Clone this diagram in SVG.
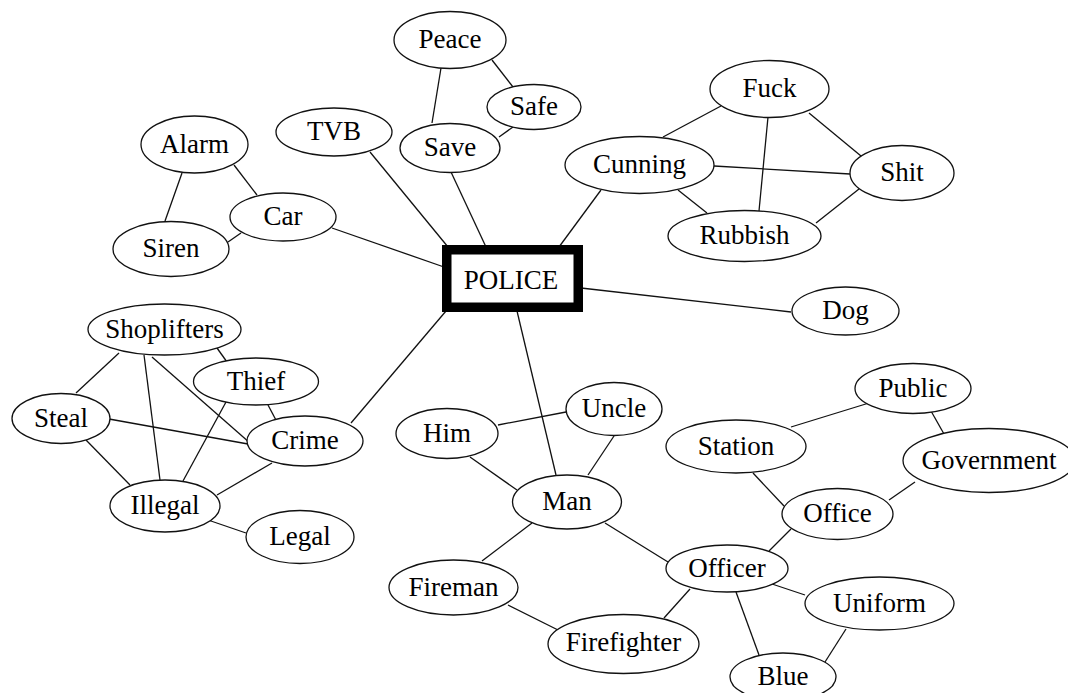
<svg xmlns="http://www.w3.org/2000/svg" width="1068" height="693" viewBox="0 0 1068 693">
  <style>
    .edge { stroke: #111; stroke-width: 1.3; fill: none; }
    .node ellipse { fill: #fff; stroke: #111; stroke-width: 1.3; }
    .node text { font-family: "Liberation Serif", "Times New Roman", serif; font-size: 27px; fill: #000; text-anchor: middle; }
    .hub rect { fill: #fff; stroke: #000; stroke-width: 9.5; }
  </style>
  <rect width="1068" height="693" fill="#fff"/>

  <!-- connectors -->
  <g id="edges" class="edge">
    <line x1="441" y1="68" x2="432" y2="123"/>
    <line x1="492" y1="60" x2="513" y2="87"/>
    <line x1="513" y1="127" x2="499" y2="137"/>
    <line x1="451" y1="172" x2="486" y2="247"/>
    <line x1="370" y1="152" x2="448" y2="247"/>
    <line x1="234" y1="165" x2="257" y2="195"/>
    <line x1="182" y1="173" x2="165" y2="221"/>
    <line x1="228" y1="242" x2="241" y2="233"/>
    <line x1="332" y1="228" x2="444" y2="267"/>
    <line x1="601" y1="190" x2="559" y2="247"/>
    <line x1="663" y1="137" x2="721" y2="106"/>
    <line x1="714" y1="166" x2="850" y2="174"/>
    <line x1="678" y1="190" x2="707" y2="213"/>
    <line x1="768" y1="117" x2="759" y2="211"/>
    <line x1="809" y1="113" x2="861" y2="156"/>
    <line x1="859" y1="189" x2="816" y2="223"/>
    <line x1="581" y1="288" x2="791" y2="312"/>
    <line x1="446" y1="311" x2="351" y2="423"/>
    <line x1="517" y1="311" x2="556" y2="475"/>
    <line x1="119" y1="353" x2="76" y2="393"/>
    <line x1="144" y1="355" x2="160" y2="480"/>
    <line x1="152" y1="357" x2="250" y2="443"/>
    <line x1="217" y1="348" x2="227" y2="362"/>
    <line x1="226" y1="402" x2="183" y2="481"/>
    <line x1="268" y1="405" x2="277" y2="422"/>
    <line x1="109" y1="419" x2="248" y2="444"/>
    <line x1="86" y1="440" x2="130" y2="485"/>
    <line x1="272" y1="463" x2="217" y2="495"/>
    <line x1="208" y1="520" x2="246" y2="533"/>
    <line x1="498" y1="425" x2="566" y2="412"/>
    <line x1="470" y1="457" x2="517" y2="490"/>
    <line x1="614" y1="436" x2="588" y2="475"/>
    <line x1="532" y1="523" x2="482" y2="561"/>
    <line x1="605" y1="523" x2="668" y2="562"/>
    <line x1="508" y1="605" x2="558" y2="630"/>
    <line x1="690" y1="589" x2="664" y2="618"/>
    <line x1="736" y1="592" x2="759" y2="655"/>
    <line x1="772" y1="584" x2="805" y2="595"/>
    <line x1="846" y1="629" x2="825" y2="662"/>
    <line x1="769" y1="551" x2="791" y2="529"/>
    <line x1="753" y1="473" x2="784" y2="506"/>
    <line x1="889" y1="500" x2="915" y2="482"/>
    <line x1="791" y1="427" x2="869" y2="403"/>
    <line x1="931" y1="411" x2="944" y2="434"/>
  </g>

  <!-- central node -->
  <g id="police" class="node hub">
    <rect x="446.75" y="249.75" width="131.5" height="57.5"/>
    <text x="511" y="289">POLICE</text>
  </g>

  <!-- word nodes -->
  <g id="peace" class="node"><ellipse cx="450" cy="40" rx="56" ry="28.5"/><text x="450" y="48">Peace</text></g>
  <g id="safe" class="node"><ellipse cx="534" cy="107" rx="47" ry="22.5"/><text x="534" y="115">Safe</text></g>
  <g id="save" class="node"><ellipse cx="450" cy="148" rx="50" ry="24.5"/><text x="450" y="156">Save</text></g>
  <g id="tvb" class="node"><ellipse cx="334" cy="132" rx="58" ry="24"/><text x="334" y="140">TVB</text></g>
  <g id="alarm" class="node"><ellipse cx="194.5" cy="144.5" rx="53.5" ry="28.5"/><text x="194.5" y="152.5">Alarm</text></g>
  <g id="car" class="node"><ellipse cx="283" cy="217" rx="53" ry="24"/><text x="283" y="225">Car</text></g>
  <g id="siren" class="node"><ellipse cx="171" cy="249" rx="58" ry="27.5"/><text x="171" y="257">Siren</text></g>
  <g id="fuck" class="node"><ellipse cx="769.5" cy="89" rx="59.5" ry="28.5"/><text x="769.5" y="97">Fuck</text></g>
  <g id="cunning" class="node"><ellipse cx="639.5" cy="165" rx="74.5" ry="28.5"/><text x="639.5" y="173">Cunning</text></g>
  <g id="shit" class="node"><ellipse cx="902" cy="173" rx="52" ry="27.5"/><text x="902" y="181">Shit</text></g>
  <g id="rubbish" class="node"><ellipse cx="744.5" cy="236" rx="76.5" ry="25.5"/><text x="744.5" y="244">Rubbish</text></g>
  <g id="dog" class="node"><ellipse cx="845.5" cy="311" rx="53.5" ry="24"/><text x="845.5" y="319">Dog</text></g>
  <g id="shoplifters" class="node"><ellipse cx="164.5" cy="329.5" rx="76.5" ry="25.5"/><text x="164.5" y="337.5">Shoplifters</text></g>
  <g id="thief" class="node"><ellipse cx="256" cy="381.5" rx="62.5" ry="23.5"/><text x="256" y="389.5">Thief</text></g>
  <g id="steal" class="node"><ellipse cx="61" cy="418.5" rx="49" ry="25"/><text x="61" y="426.5">Steal</text></g>
  <g id="crime" class="node"><ellipse cx="305" cy="441" rx="58" ry="25"/><text x="305" y="449">Crime</text></g>
  <g id="illegal" class="node"><ellipse cx="165" cy="506" rx="55" ry="26"/><text x="165" y="514">Illegal</text></g>
  <g id="legal" class="node"><ellipse cx="300" cy="537" rx="54" ry="26.5"/><text x="300" y="545">Legal</text></g>
  <g id="him" class="node"><ellipse cx="447" cy="433.5" rx="51" ry="25"/><text x="447" y="441.5">Him</text></g>
  <g id="uncle" class="node"><ellipse cx="614" cy="409" rx="48" ry="26.5"/><text x="614" y="417">Uncle</text></g>
  <g id="man" class="node"><ellipse cx="567" cy="502" rx="54.5" ry="27"/><text x="567" y="510">Man</text></g>
  <g id="fireman" class="node"><ellipse cx="453.5" cy="587.5" rx="64.5" ry="27.5"/><text x="453.5" y="595.5">Fireman</text></g>
  <g id="firefighter" class="node"><ellipse cx="623.5" cy="644" rx="75.5" ry="29.5"/><text x="623.5" y="651">Firefighter</text></g>
  <g id="station" class="node"><ellipse cx="736" cy="446.5" rx="70" ry="26.5"/><text x="736" y="454.5">Station</text></g>
  <g id="public" class="node"><ellipse cx="913" cy="388.5" rx="58" ry="25"/><text x="913" y="396.5">Public</text></g>
  <g id="government" class="node"><ellipse cx="989" cy="460.5" rx="86" ry="32"/><text x="989" y="468.5">Government</text></g>
  <g id="office" class="node"><ellipse cx="837.5" cy="514" rx="55.5" ry="25.5"/><text x="837.5" y="522">Office</text></g>
  <g id="officer" class="node"><ellipse cx="727" cy="568.5" rx="61" ry="23.5"/><text x="727" y="576.5">Officer</text></g>
  <g id="uniform" class="node"><ellipse cx="879.5" cy="603.5" rx="74.5" ry="26.5"/><text x="879.5" y="611.5">Uniform</text></g>
  <g id="blue" class="node"><ellipse cx="783" cy="677" rx="53" ry="24"/><text x="783" y="685">Blue</text></g>
</svg>
